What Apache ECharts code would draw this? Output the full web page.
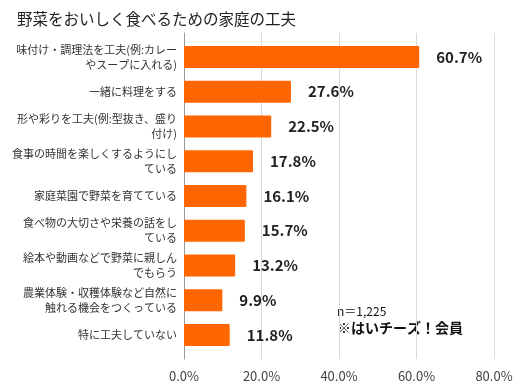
<!DOCTYPE html>
<html><head><meta charset="utf-8">
<script src="https://cdn.jsdelivr.net/npm/echarts@6/dist/echarts.min.js"></script>
<style>html,body{margin:0;padding:0;background:#fff}#c{width:525px;height:391px}</style>
</head><body><div id="c"></div>
<script>
const categories = [
  '味付け・調理法を工夫(例:カレー\nやスープに入れる)',
  '一緒に料理をする',
  '形や彩りを工夫(例:型抜き、盛り\n付け)',
  '食事の時間を楽しくするようにし\nている',
  '家庭菜園で野菜を育てている',
  '食べ物の大切さや栄養の話をし\nている',
  '絵本や動画などで野菜に親しん\nでもらう',
  '農業体験・収穫体験など自然に\n触れる機会をつくっている',
  '特に工夫していない'
];
const values = [60.7, 27.6, 22.5, 17.8, 16.1, 15.7, 13.2, 9.9, 11.8];
const xTicks = [0, 20, 40, 60, 80];
const title = '野菜をおいしく食べるための家庭の工夫';
const note1 = 'n＝1,225';
const note2 = '※はいチーズ！会員';

const FONT = '"Noto Sans CJK JP", "Noto Sans", sans-serif';
const chart = echarts.init(document.getElementById('c'));
chart.setOption({
  animation: false,
  textStyle: { fontFamily: FONT },
  title: { text: title, left: 12, top: 6, textStyle: { fontSize: 15.5, fontWeight: 'normal', color: '#222', fontFamily: FONT } },
  grid: [
    { left: 184, right: 31, top: 33, bottom: 32 },
    { left: 184, right: 31, top: 39.6, bottom: 38.6 }
  ],
  xAxis: [
    { gridIndex: 0, type: 'value', min: xTicks[0], max: xTicks[xTicks.length - 1], interval: 20,
      axisLine: { show: false }, axisTick: { show: false },
      splitLine: { lineStyle: { color: '#d9d9d9', width: 1 } },
      axisLabel: { margin: 11, fontSize: 13, color: '#444', fontFamily: FONT, formatter: v => v.toFixed(1) + '%' } },
    { gridIndex: 1, type: 'value', min: 0, max: 80, show: false }
  ],
  yAxis: [
    { gridIndex: 0, type: 'category', data: ['a'], axisLabel: { show: false }, axisTick: { show: false },
      axisLine: { show: true, lineStyle: { color: '#999', width: 1 } } },
    { gridIndex: 1, type: 'category', data: categories, inverse: true,
      axisLine: { show: false }, axisTick: { show: false },
      axisLabel: { margin: 7, fontSize: 11, lineHeight: 15, color: '#333', align: 'right', fontFamily: FONT } }
  ],
  series: [{
    type: 'bar', xAxisIndex: 1, yAxisIndex: 1, data: values, barWidth: 22,
    itemStyle: { color: '#FF6600', borderRadius: 1 },
    label: { show: true, position: 'right', distance: 17, formatter: p => p.value.toFixed(1) + '%',
      fontSize: 15, fontWeight: 'bold', color: '#222', fontFamily: FONT }
  }],
  graphic: [
    { type: 'text', left: 337, top: 305, style: { text: note1, fontSize: 12, fill: '#111', fontFamily: FONT } },
    { type: 'text', left: 337, top: 321, style: { text: note2, fontSize: 14, fontWeight: 'bold', fill: '#111', fontFamily: FONT } }
  ]
});
</script></body></html>
